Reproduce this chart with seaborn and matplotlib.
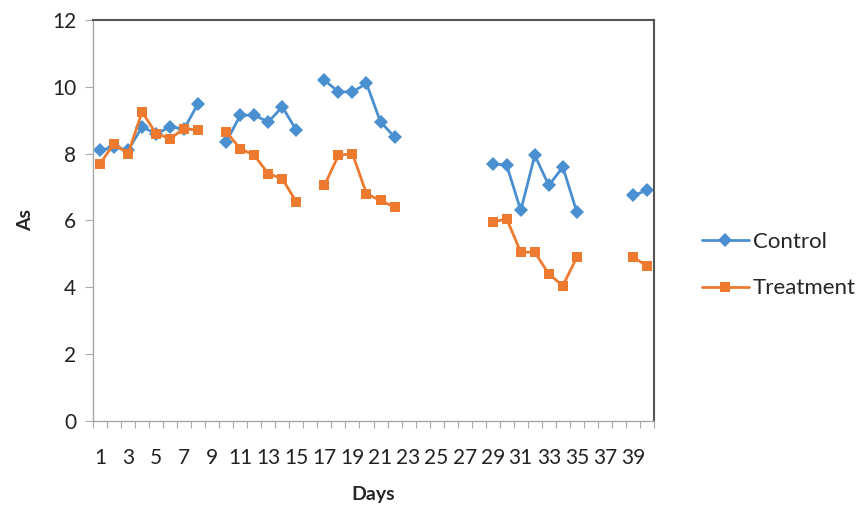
import numpy as np
import pandas as pd
from matplotlib import pyplot as plt
from matplotlib.lines import Line2D
import seaborn as sns

days = list(range(1, 41))
control = [8.1, 8.2, 8.1, 8.8, 8.6, 8.8, 8.75, 9.5, np.nan,
           8.35, 9.15, 9.15, 8.95, 9.4, 8.7, np.nan,
           10.2, 9.85, 9.85, 10.1, 8.95, 8.5,
           np.nan, np.nan, np.nan, np.nan, np.nan, np.nan,
           7.7, 7.65, 6.3, 7.95, 7.05, 7.6, 6.25,
           np.nan, np.nan, np.nan, 6.75, 6.9]
treatment = [7.7, 8.3, 8.0, 9.25, 8.6, 8.45, 8.75, 8.7, np.nan,
             8.65, 8.15, 7.95, 7.4, 7.25, 6.55, np.nan,
             7.05, 7.95, 8.0, 6.8, 6.6, 6.4,
             np.nan, np.nan, np.nan, np.nan, np.nan, np.nan,
             5.95, 6.05, 5.05, 5.05, 4.4, 4.05, 4.9,
             np.nan, np.nan, np.nan, 4.9, 4.65]
series = ["Control", "Treatment"]
colors = {"Control": "#4a8fcf", "Treatment": "#ee7a30"}
markers = {"Control": "D", "Treatment": "s"}

# %% Long format, with a segment id so gaps stay gaps
rows = []
for name, vals in zip(series, [control, treatment]):
    seg = 0
    for d, v in zip(days, vals):
        if np.isnan(v):
            seg += 1
            continue
        rows.append({"Days": d, "As": v, "series": name, "seg": f"{name}{seg}"})
df = pd.DataFrame(rows)

# %% Plot
sns.set_style("white")
plt.rcParams["font.family"] = ["Lato", "DejaVu Sans"]

fig = plt.figure(figsize=(8.64, 5.05), dpi=100)
ax = fig.add_axes([93/864, 1-421/505, (654-93)/864, (421-20)/505])

sns.lineplot(data=df, x="Days", y="As", hue="series", style="series",
             units="seg", estimator=None, palette=colors, markers=markers,
             dashes=False, linewidth=2.0, markersize=7, markeredgewidth=0,
             legend=False, ax=ax)

ax.set_xlim(0.5, 40.5)
ax.set_ylim(0, 12)
ax.set_yticks(range(0, 13, 2))
ax.set_xticks(range(1, 41, 2))
ax.set_xticks(np.arange(0.5, 41, 1), minor=True)
ax.tick_params(axis="x", which="major", bottom=False, pad=16, labelsize=15,
               labelcolor="#222222")
ax.tick_params(axis="x", which="minor", bottom=True, length=5, width=0.8,
               color="#aaaaaa", direction="out")
ax.tick_params(axis="y", left=True, length=6, width=0.8, color="#aaaaaa",
               labelsize=15, labelcolor="#222222", pad=6)

for s in ["left", "bottom"]:
    ax.spines[s].set_color("#a6a6a6")
    ax.spines[s].set_linewidth(1)
for s in ["top", "right"]:
    ax.spines[s].set_color("#555555")
    ax.spines[s].set_linewidth(1.5)

ax.set_xlabel("Days", fontsize=14, fontweight="bold", labelpad=13)
ax.set_ylabel("As", fontsize=14, fontweight="bold", labelpad=13)

handles = [Line2D([], [], color=colors[n], marker=markers[n], lw=2.0,
                  markersize=7, markeredgewidth=0) for n in series]
fig.legend(handles, series, loc="center left", bbox_to_anchor=(682/864, 1-265/505),
           frameon=False, fontsize=16, handlelength=2.1, handletextpad=0.2,
           labelspacing=1.2)

plt.savefig("out.png", dpi=100)
